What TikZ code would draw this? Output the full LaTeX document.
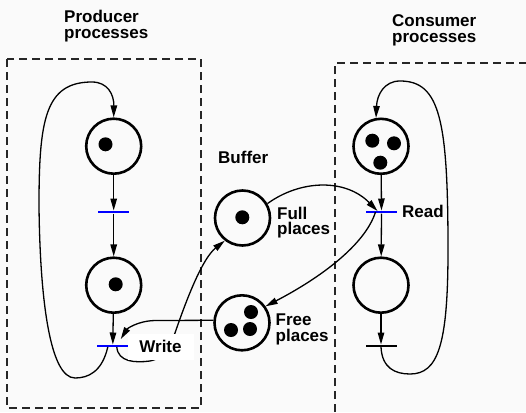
\documentclass[tikz,border=0pt]{standalone}
\usepackage{fontspec}
\setmainfont{Liberation Sans}
\usetikzlibrary{arrows.meta,calc}
\definecolor{bg}{RGB}{250,250,250}
\definecolor{tblue}{RGB}{0,0,255}
\begin{document}
\begin{tikzpicture}[x=1pt,y=-1pt,
  place/.style={circle,draw,line width=2.6pt,minimum size=55pt,inner sep=0pt},
  token/.style={circle,fill,minimum size=14pt,inner sep=0pt},
  trans/.style={rectangle,fill=tblue,minimum width=31pt,minimum height=2.6pt,inner sep=0pt},
  btrans/.style={trans,fill=black},
  arc/.style={line width=1.3pt,-{Triangle[length=12pt,width=6.5pt]}},
  lbl/.style={font=\fontsize{17}{15.5}\selectfont\bfseries,align=left,inner sep=0pt,anchor=north west},
  box/.style={dash pattern=on 8pt off 5pt,line width=1.2pt,black!85}
]
\fill[bg] (0,0) rectangle (526,412);
\useasboundingbox (0,0) rectangle (526,412);

% process boxes
\draw[box] (7,59) rectangle (201,408);
\draw[box] (335,412) -- (335,63) -- (526,63);

% titles
\node[lbl] (ptitle) at (64,10) {Producer\\processes};
\node[lbl] (ctitle) at (392,14.5) {Consumer\\processes};
\node[lbl] (btitle) at (218,150.5) {Buffer};

% producer net
\node[place] (p1) at (113.7,146.2) {};
\node[token] (p1a) at (105.5,144.3) {};
\node[trans] (t1) at (113.7,212) {};
\node[place] (p2) at (113.7,285.2) {};
\node[token] (p2a) at (115.7,284.3) {};
\node[trans] (t2) at (112.8,346) {};

% buffer
\node[place] (full) at (242.5,218) {};
\node[token] (fulla) at (242.3,217.3) {};
\node[place] (free) at (242,322.8) {};
\node[token] (freea) at (251,312) {};
\node[token] (freeb) at (231,330) {};
\node[token] (freec) at (250,329) {};
\node[lbl] (flbl) at (277,206.5) {Full\\places};
\node[lbl] (frlbl) at (275.5,314) {Free\\places};

% consumer net
\node[place] (c1) at (381,146.3) {};
\node[token] (c1a) at (372.3,140.7) {};
\node[token] (c1b) at (394,143.3) {};
\node[token] (c1c) at (380.3,162.7) {};
\node[trans] (rd) at (381.5,212) {};
\node[lbl] (rdlbl) at (402,204.5) {Read};
\node[place] (c2) at (381,285.2) {};
\node[btrans] (t4) at (381,346) {};

% producer arcs
\draw[arc] (p1) -- (t1);
\draw[arc] (t1) -- (p2);
\draw[arc] (p2) -- (t2);
\draw[arc] ($(t2)+(-5,1)$) .. controls (102,372) and (88,378) .. (75,378)
  .. controls (50,378) and (40,300) .. (39,206)
  .. controls (39,120) and (45,82) .. (92,82)
  .. controls (108,82) and (114,95) .. (p1.north);

% consumer arcs
\draw[arc] (c1) -- (rd);
\draw[arc] (rd) -- (c2);
\draw[arc] (c2) -- (t4);
\draw[arc] ($(t4)+(0,1)$) .. controls (382,368) and (395,374) .. (410,374)
  .. controls (438,374) and (448,345) .. (448,250)
  .. controls (448,120) and (440,81) .. (400,81)
  .. controls (384,81) and (377,95) .. (c1.100);

% buffer arcs
\draw[arc] (full.30) .. controls (300,180) and (345,178) .. ($(rd)+(-4,-1)$);
\draw[arc] ($(rd)+(-6,0)$) .. controls (365,245) and (320,278) .. (free.35);
\draw[arc] ($(t2)+(4,1)$) .. controls (118,362) and (135,363) .. (150,361)
  .. controls (165,358) and (170,345) .. (175,333)
  .. controls (188,295) and (203,258) .. (full.232);

\node[fill=white,inner sep=0pt,minimum width=66pt,minimum height=26pt,
  font=\fontsize{17}{15.5}\selectfont\bfseries] (wlbl) at (160.5,346.5) {Write};

\draw[arc] (free.175) -- (155,320.5) .. controls (137,321) and (127,329) .. ($(t2)+(8,-7)$);
\end{tikzpicture}
\end{document}
